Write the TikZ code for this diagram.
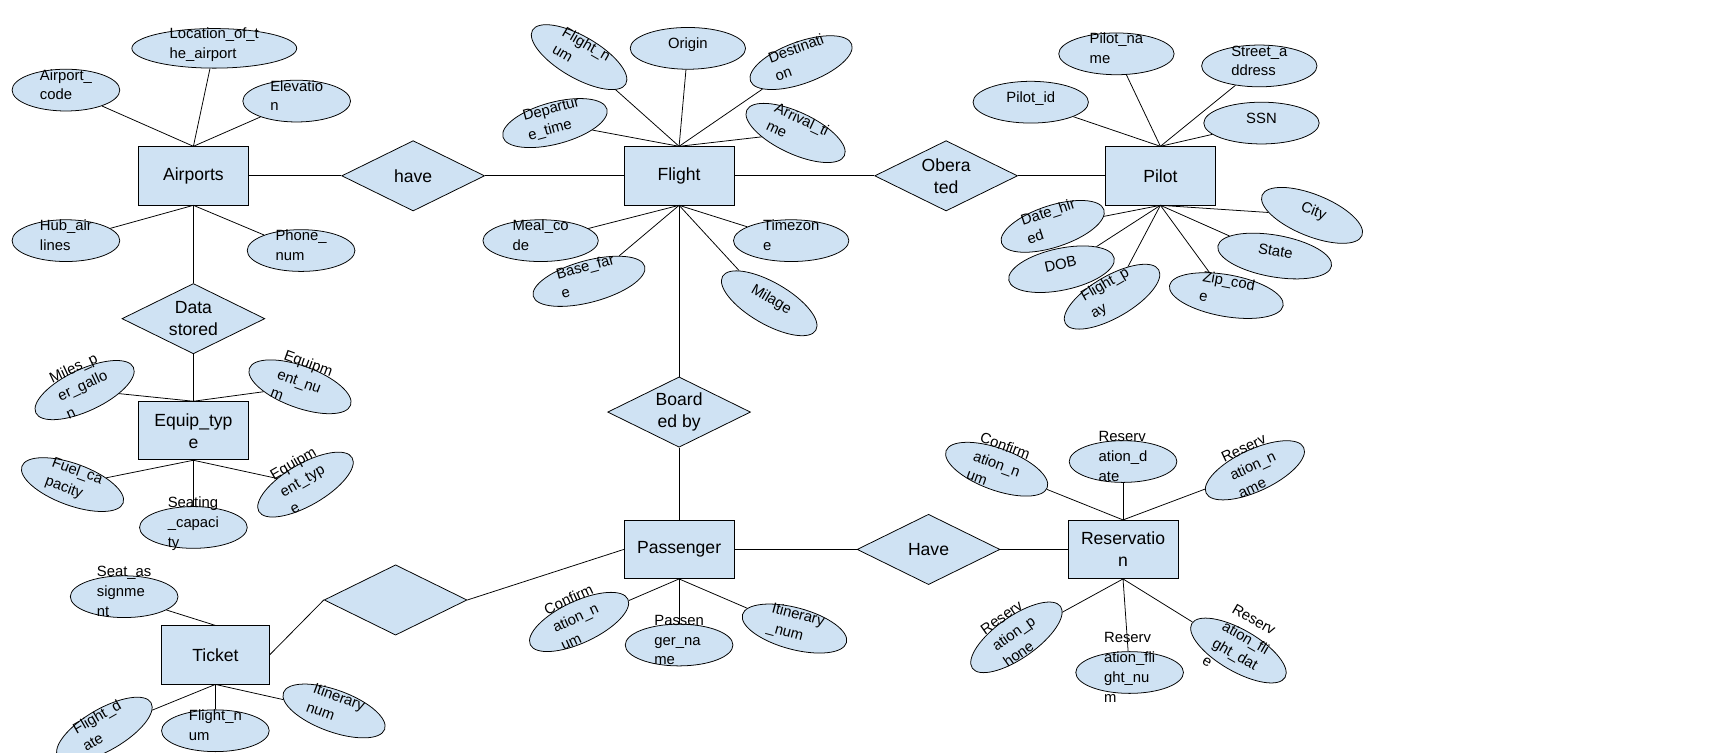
\documentclass[tikz,border=0pt]{standalone}
\usepackage{fontspec}
\setmainfont{Liberation Sans}
\usetikzlibrary{shapes.geometric}
\newcommand\zt[1]{\makebox[0pt]{\smash{\begin{tabular}{@{}l@{}}#1\end{tabular}}}}
\definecolor{fillc}{RGB}{207,226,243}
\begin{document}
\begin{tikzpicture}[x=1pt,y=-1pt,
  ent/.style={draw,fill=fillc,minimum width=100pt,minimum height=53pt,inner sep=0,font=\fontsize{16}{20}\selectfont,align=center},
  rel/.style={draw,fill=fillc,diamond,minimum width=130pt,minimum height=64pt,aspect=2,inner sep=0,font=\fontsize{16}{20}\selectfont,align=center},
  att/.style={draw,fill=fillc,ellipse,minimum width=98pt,minimum height=38pt,inner sep=0,font=\fontsize{13.5}{18}\selectfont},
  every path/.style={line width=0.7pt}]
\useasboundingbox (0,0) rectangle (1568,685);
% entities
\node[ent] (air) at (176,160) {Airports};
\node[ent] (fl) at (618,160) {Flight};
\node[ent] (pi) at (1056,160) {Pilot};
\node[ent] (eq) at (176,392) {Equip\_typ\\e};
\node[ent] (pa) at (618,500) {Passenger};
\node[ent] (re) at (1022,500) {Reservatio\\n};
\node[ent,minimum width=98pt] (ti) at (196,596) {Ticket};
% relationships
\node[rel] (have) at (376,160) {have};
\node[rel] (ob) at (861,160) {Obera\\ted};
\node[rel] (ds) at (176,290) {Data\\stored};
\node[rel] (bb) at (618,375) {Board\\ed by};
\node[rel] (hv) at (845,500) {Have};
\node[rel] (em) at (360,546) {};
\draw (air) -- (have) -- (fl) -- (ob) -- (pi);
\draw (air) -- (ds) -- (eq);
\draw (fl) -- (bb) -- (pa);
\draw (pa) -- (hv) -- (re);
\draw (ti.east) -- (em.west);
\draw (em.east) -- (pa.west);
% airports attributes
\node[att] (a1) at (60,82) {\zt{Airport\_\\code}};
\node[att,minimum width=150pt,minimum height=36pt] (a2) at (195,44) {\zt{Location\_of\_t\\he\_airport}};
\node[att] (a3) at (270,92) {\zt{Elevatio\\n}};
\node[att] (a4) at (60,219) {\zt{Hub\_air\\lines}};
\node[att] (a5) at (274,228) {\zt{Phone\_\\num}};
\foreach \a in {a1,a2,a3} \draw (air.north) -- (\a);
\foreach \a in {a4,a5} \draw (air.south) -- (\a);
% flight attributes
\node[att,rotate=-30] (f1) at (527,52) {\zt{Flight\_n\\um}};
\node[att,minimum width=105pt] (f2) at (626,44) {\zt{Origin}};
\node[att,rotate=20] (f3) at (729,57) {\zt{Destinati\\on}};
\node[att,rotate=15] (f4) at (505,112) {\zt{Departur\\e\_time}};
\node[att,rotate=-25] (f5) at (724,121) {\zt{Arrival\_ti\\me}};
\node[att,minimum width=105pt] (f6) at (492,219) {\zt{Meal\_co\\de}};
\node[att,minimum width=105pt,rotate=15] (f7) at (536,256) {\zt{Base\_far\\e}};
\node[att,minimum width=105pt] (f8) at (720,219) {\zt{Timezon\\e}};
\node[att,rotate=-30] (f9) at (700,276) {\zt{Milage}};
\foreach \a in {f1,f2,f3,f4,f5} \draw (fl.north) -- (\a);
\foreach \a in {f6,f7,f8,f9} \draw (fl.south) -- (\a);
% pilot attributes
\node[att,minimum width=105pt] (p1) at (1016,49) {\zt{Pilot\_na\\me}};
\node[att,minimum width=105pt] (p2) at (1146,60) {\zt{Street\_a\\ddress}};
\node[att,minimum width=105pt] (p3) at (938,93) {\zt{Pilot\_id}};
\node[att,minimum width=105pt] (p4) at (1148,112) {\zt{SSN}};
\node[att,rotate=-22] (p5) at (1194,196) {\zt{City}};
\node[att,rotate=18] (p6) at (958,206) {\zt{Date\_hir\\ed}};
\node[att,rotate=12] (p7) at (966,245) {\zt{DOB}};
\node[att,rotate=30] (p8) at (1012,270) {\zt{Flight\_p\\ay}};
\node[att,minimum width=105pt,rotate=-10] (p9) at (1116,269) {\zt{Zip\_cod\\e}};
\node[att,minimum width=105pt,rotate=-10] (p10) at (1160,233) {\zt{State}};
\foreach \a in {p1,p2,p3,p4} \draw (pi.north) -- (\a);
\foreach \a in {p6,p7,p8,p9,p10} \draw (pi.south) -- (\a);
\draw (pi.south) -- (p5);
% equip attributes
\node[att,rotate=25] (e1) at (77,355) {\zt{Miles\_p\\er\_gallo\\n}};
\node[att,rotate=-20] (e2) at (273,352) {\zt{Equipm\\ent\_nu\\m}};
\node[att,rotate=-20] (e3) at (66,441) {\zt{Fuel\_ca\\pacity}};
\node[att] (e4) at (176,480) {\zt{Seating\\\_capaci\\ty}};
\node[att,rotate=30] (e5) at (278,441) {\zt{Equipm\\ent\_typ\\e}};
\foreach \a in {e1,e2} \draw (eq.north) -- (\a);
\foreach \a in {e3,e4,e5} \draw (eq.south) -- (\a);
% reservation attributes
\node[att,rotate=-20] (r1) at (907,427) {\zt{Confirm\\ation\_n\\um}};
\node[att] (r2) at (1022,420) {\zt{Reserv\\ation\_d\\ate}};
\node[att,rotate=25] (r3) at (1142,428) {\zt{Reserv\\ation\_n\\ame}};
\node[att,rotate=35] (r4) at (925,580) {\zt{Reserv\\ation\_p\\hone}};
\node[att] (r5) at (1028,612) {\zt{Reserv\\ation\_fli\\ght\_nu\\m}};
\node[att,rotate=-30] (r6) at (1127,592) {\zt{Reserv\\ation\_fli\\ght\_dat\\e}};
\foreach \a in {r1,r2,r3} \draw (re.north) -- (\a);
\foreach \a in {r4,r5,r6} \draw (re.south) -- (\a);
% passenger attributes
\node[att,rotate=25] (s1) at (527,566) {\zt{Confirm\\ation\_n\\um}};
\node[att] (s2) at (618,587) {\zt{Passen\\ger\_na\\me}};
\node[att,rotate=-15] (s3) at (723,572) {\zt{Itinerary\\\_num}};
\foreach \a in {s1,s2,s3} \draw (pa.south) -- (\a);
% ticket attributes
\node[att] (t1) at (113,543) {\zt{Seat\_as\\signme\\nt}};
\node[att,rotate=30] (t2) at (95,664) {\zt{Flight\_d\\ate}};
\node[att] (t3) at (196,665) {\zt{Flight\_n\\um}};
\node[att,rotate=-20] (t4) at (304,647) {\zt{Itinerary\\num}};
\draw (ti.north) -- (t1);
\foreach \a in {t2,t3,t4} \draw (ti.south) -- (\a);
\end{tikzpicture}
\end{document}
